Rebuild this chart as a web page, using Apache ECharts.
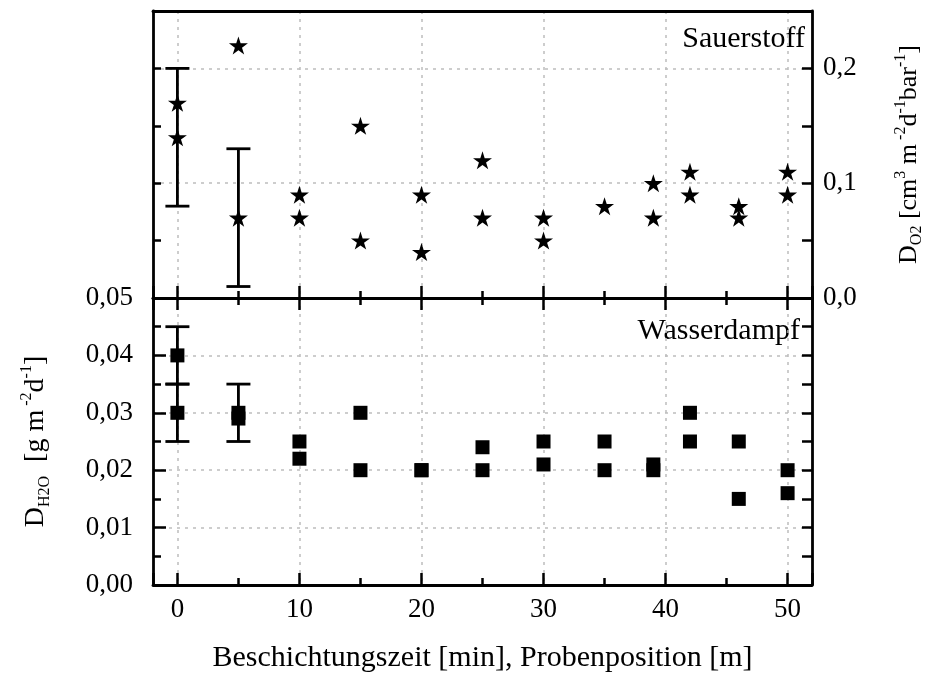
<!DOCTYPE html>
<html>
<head>
<meta charset="utf-8">
<script src="https://cdn.jsdelivr.net/npm/echarts@6/dist/echarts.min.js"></script>
<style>
  html, body { margin: 0; padding: 0; background: #fff; }
  #main { width: 934px; height: 675px; }
</style>
</head>
<body>
<div id="main"></div>
<script>
// Probenposition / Beschichtungszeit
var positions = [0, 5, 10, 15, 20, 25, 30, 35, 39, 42, 46, 50];

// Sauerstoff (D_O2), zwei Messungen je Position
var o2Upper = [0.17, 0.22, 0.09, 0.15, 0.09, 0.12, 0.07, 0.08, 0.10, 0.11, 0.08, 0.11];
var o2Lower = [0.14, 0.07, 0.07, 0.05, 0.04, 0.07, 0.05, null, 0.07, 0.09, 0.07, 0.09];
// [x, von, bis]
var o2Err = [[0, 0.08, 0.20], [5, 0.01, 0.13]];

// Wasserdampf (D_H2O)
var h2oUpper = [0.040, 0.030, 0.025, 0.030, 0.020, 0.024, 0.025, 0.025, 0.021, 0.030, 0.025, 0.020];
var h2oLower = [0.030, 0.029, 0.022, 0.020, 0.020, 0.020, 0.021, 0.020, 0.020, 0.025, 0.015, 0.016];
var h2oErr = [[0, 0.035, 0.045], [0, 0.025, 0.035], [5, 0.025, 0.035]];

var FONT = '"Liberation Serif", "DejaVu Serif", serif';
var star = 'path://M50,0 L61,35 L98,35 L68,57 L79,91 L50,70 L21,91 L32,57 L2,35 L39,35 Z';

function pairs(xs, ys) {
    var out = [];
    for (var i = 0; i < xs.length; i++) {
        if (ys[i] != null) out.push([xs[i], ys[i]]);
    }
    return out;
}

function errRender(params, api) {
    var lo = api.coord([api.value(0), api.value(1)]);
    var hi = api.coord([api.value(0), api.value(2)]);
    var w = 12;
    var st = { stroke: '#000', lineWidth: 2.8 };
    return {
        type: 'group',
        children: [
            { type: 'line', shape: { x1: lo[0], y1: lo[1], x2: hi[0], y2: hi[1] }, style: st },
            { type: 'line', shape: { x1: lo[0] - w, y1: lo[1], x2: lo[0] + w, y2: lo[1] }, style: st },
            { type: 'line', shape: { x1: hi[0] - w, y1: hi[1], x2: hi[0] + w, y2: hi[1] }, style: st }
        ]
    };
}

var gridLine = { color: '#bdbdbd', width: 1.5, type: [3, 5] };
var split = { show: true, showMinLine: false, showMaxLine: false, lineStyle: gridLine };
var axLine = { show: true, onZero: false, lineStyle: { color: '#000', width: 2.8 } };
var tickLine = { color: '#000', width: 2.5 };
var tick = { show: true, inside: true, length: 12, lineStyle: tickLine };
var minor = { show: true, splitNumber: 2, length: 7, lineStyle: tickLine };

function richText(size) {
    return {
        b: { fontFamily: FONT, fontSize: size, color: '#000', lineHeight: size + 6, verticalAlign: 'middle' },
        sub: { fontFamily: FONT, fontSize: 16, color: '#000', lineHeight: 16, verticalAlign: 'bottom' },
        sup: { fontFamily: FONT, fontSize: 16, color: '#000', lineHeight: 16, verticalAlign: 'top' }
    };
}

var chart = echarts.init(document.getElementById('main'));

var option = {
    animation: false,
    backgroundColor: '#fff',
    grid: [
        { left: 153, right: 122, top: 11, height: 287 },
        { left: 153, right: 122, top: 298, height: 287 }
    ],
    xAxis: [
        {
            gridIndex: 0, type: 'value', min: -2, max: 52, position: 'bottom',
            axisLine: axLine, axisTick: tick, minorTick: minor,
            axisLabel: { show: false }, splitLine: split
        },
        {
            gridIndex: 1, type: 'value', min: -2, max: 52, position: 'bottom',
            axisLine: axLine, axisTick: tick, minorTick: minor,
            axisLabel: {
                show: true, margin: 11, fontFamily: FONT, fontSize: 27, color: '#000',
                showMinLabel: false, showMaxLabel: false
            },
            splitLine: split,
            name: 'Beschichtungszeit [min], Probenposition [m]',
            nameLocation: 'middle', nameGap: 58,
            nameTextStyle: { fontFamily: FONT, fontSize: 30, color: '#000' }
        },
        {
            gridIndex: 1, type: 'value', min: -2, max: 52, position: 'top',
            axisLine: axLine, axisTick: tick, minorTick: minor,
            axisLabel: { show: false }, splitLine: { show: false }
        },
        {
            gridIndex: 0, type: 'value', min: -2, max: 52, position: 'top',
            axisLine: axLine, axisTick: { show: false },
            axisLabel: { show: false }, splitLine: { show: false }
        }
    ],
    yAxis: [
        {
            gridIndex: 0, type: 'value', min: 0, max: 0.25, interval: 0.1, position: 'right',
            axisLine: axLine, axisTick: { show: true, inside: true, length: 10, lineStyle: tickLine },
            minorTick: { show: true, splitNumber: 2, length: 10, lineStyle: tickLine },
            axisLabel: {
                margin: 11, fontFamily: FONT, fontSize: 27, color: '#000', showMaxLabel: false,
                formatter: function (v) { return v.toFixed(1).replace('.', ','); }
            },
            splitLine: split,
            name: '{b|D}{sub|O2}{b| [cm}{sup|3}{b| m}{sup| -2}{b|d}{sup|-1}{b|bar}{sup|-1}{b|]}',
            nameLocation: 'middle', nameRotate: 90, nameGap: 81,
            nameTextStyle: { rich: richText(26) }
        },
        {
            gridIndex: 0, type: 'value', min: 0, max: 0.25, interval: 0.1, position: 'left',
            axisLine: axLine, axisTick: { show: true, inside: true, length: 8, lineStyle: tickLine },
            minorTick: { show: true, splitNumber: 2, length: 8, lineStyle: tickLine },
            axisLabel: { show: false }, splitLine: { show: false }
        },
        {
            gridIndex: 1, type: 'value', min: 0, max: 0.05, interval: 0.01, position: 'left',
            axisLine: axLine, axisTick: { show: true, inside: true, length: 13, lineStyle: tickLine },
            minorTick: { show: true, splitNumber: 2, length: 8, lineStyle: tickLine },
            axisLabel: {
                margin: 20, fontFamily: FONT, fontSize: 27, color: '#000',
                formatter: function (v) { return v.toFixed(2).replace('.', ','); }
            },
            splitLine: split,
            name: '{b|D}{sub|H2O}{b|  [g m}{sup| -2}{b|d}{sup|-1}{b|]}',
            nameLocation: 'middle', nameRotate: 90, nameGap: 100,
            nameTextStyle: { rich: richText(28) }
        },
        {
            gridIndex: 1, type: 'value', min: 0, max: 0.05, interval: 0.01, position: 'right',
            axisLine: axLine, axisTick: { show: true, inside: true, length: 10, lineStyle: tickLine },
            minorTick: { show: true, splitNumber: 2, length: 10, lineStyle: tickLine },
            axisLabel: { show: false }, splitLine: { show: false }
        }
    ],
    graphic: [
        { type: 'text', right: 129, top: 24, style: { text: 'Sauerstoff', font: '30px ' + FONT, fill: '#000' } },
        { type: 'text', right: 134, top: 316, style: { text: 'Wasserdampf', font: '30px ' + FONT, fill: '#000' } }
    ],
    series: [
        {
            type: 'custom', xAxisIndex: 0, yAxisIndex: 0, renderItem: errRender,
            data: o2Err, z: 3
        },
        {
            type: 'custom', xAxisIndex: 1, yAxisIndex: 2, renderItem: errRender,
            data: h2oErr, z: 3
        },
        {
            type: 'scatter', xAxisIndex: 0, yAxisIndex: 0, symbol: star, symbolSize: [19, 18],
            itemStyle: { color: '#000', opacity: 1 }, data: pairs(positions, o2Upper), z: 5
        },
        {
            type: 'scatter', xAxisIndex: 0, yAxisIndex: 0, symbol: star, symbolSize: [19, 18],
            itemStyle: { color: '#000', opacity: 1 }, data: pairs(positions, o2Lower), z: 5
        },
        {
            type: 'scatter', xAxisIndex: 1, yAxisIndex: 2, symbol: 'rect', symbolSize: 14,
            itemStyle: { color: '#000', opacity: 1 }, data: pairs(positions, h2oUpper), z: 5
        },
        {
            type: 'scatter', xAxisIndex: 1, yAxisIndex: 2, symbol: 'rect', symbolSize: 14,
            itemStyle: { color: '#000', opacity: 1 }, data: pairs(positions, h2oLower), z: 5
        }
    ]
};

chart.setOption(option);
</script>
</body>
</html>
